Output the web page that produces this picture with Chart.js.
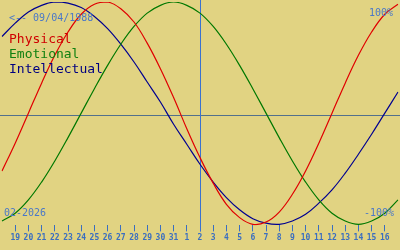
<!DOCTYPE html>
<html>
<head>
<meta charset="utf-8">
<script src="https://cdn.jsdelivr.net/npm/chart.js@4/dist/chart.umd.min.js"></script>
<style>
body { margin: 0; background: #e1d382; }
canvas { display: block; }
</style>
</head>
<body>
<canvas id="bioChart" width="400" height="250"></canvas>
<script>
// days shown: Jan 18 .. Feb 17 (first and last only reach the edges)
var _days = ['18','19','20','21','22','23','24','25','26','27','28','29','30','31',
	'1','2','3','4','5','6','7','8','9','10','11','12','13','14','15','16','17'];
var _physical = [-0.52,-0.27,0,0.27,0.52,0.73,0.89,0.98,1.00,0.94,0.82,0.63,0.40,0.14,-0.14,-0.40,
	-0.63,-0.82,-0.94,-1.00,-0.98,-0.89,-0.73,-0.52,-0.27,0,0.27,0.52,0.73,0.89,0.98];
var _emotional = [-0.97,-0.90,-0.78,-0.62,-0.43,-0.22,0,0.22,0.43,0.62,0.78,0.90,0.97,1.00,0.97,0.90,
	0.78,0.62,0.43,0.22,0,-0.22,-0.43,-0.62,-0.78,-0.90,-0.97,-1.00,-0.97,-0.90,-0.78];
var _intellectual = [0.69,0.81,0.91,0.97,1.00,0.99,0.95,0.87,0.76,0.62,0.46,0.28,0.10,-0.10,-0.28,-0.46,
	-0.62,-0.76,-0.87,-0.95,-0.99,-1.00,-0.97,-0.91,-0.81,-0.69,-0.54,-0.37,-0.19,0,0.19];
var _todayIdx = 15;
var _birthText = '<-- 09/04/1988';
var _monthText = '02-2026';
var _seriesNames = ['Physical', 'Emotional', 'Intellectual'];
var _seriesColors = ['#e00000', '#007800', '#000090'];
var _legendColors = ['#d00000', '#108010', '#000080'];

var bioPlugin = {
	id: 'bioPlugin',
	beforeDatasetsDraw: function(chart) {
		var ctx = chart.ctx;
		var area = chart.chartArea;
		var zy = Math.round(chart.scales.y.getPixelForValue(0)) + 2.5;
		var tx = Math.round(chart.scales.x.getPixelForValue(_todayIdx)) + 0.5;
		ctx.save();
		ctx.lineWidth = 1;
		ctx.strokeStyle = '#52708c';
		ctx.beginPath();
		ctx.moveTo(0, zy);
		ctx.lineTo(chart.width, zy);
		ctx.stroke();
		ctx.strokeStyle = '#3a72d0';
		ctx.beginPath();
		ctx.moveTo(tx, 0);
		ctx.lineTo(tx, area.bottom + 6);
		ctx.stroke();
		ctx.restore();
	},
	afterDatasetsDraw: function(chart) {
		var ctx = chart.ctx;
		ctx.save();
		ctx.textBaseline = 'alphabetic';
		ctx.textAlign = 'left';
		ctx.font = '10px "DejaVu Sans Mono"';
		ctx.fillStyle = '#4a78c8';
		ctx.fillText(_birthText, 9, 21);
		ctx.fillText('100%', 369, 16);
		ctx.fillText('-100%', 364, 216);
		ctx.fillText(_monthText, 4, 216);
		ctx.font = '13px "DejaVu Sans Mono"';
		for (var i = 0; i < _seriesNames.length; i++) {
			ctx.fillStyle = _legendColors[i];
			ctx.fillText(_seriesNames[i], 9, 43 + i * 15);
		}
		ctx.restore();
	}
};

function _makeDataset(data, color) {
	return {
		data: data,
		borderColor: color,
		borderWidth: 1.2,
		pointRadius: 0,
		fill: false,
		tension: 0.4
	};
}

var _config = {
	type: 'line',
	data: {
		labels: _days,
		datasets: [
			_makeDataset(_physical, _seriesColors[0]),
			_makeDataset(_emotional, _seriesColors[1]),
			_makeDataset(_intellectual, _seriesColors[2])
		]
	},
	options: {
		responsive: false,
		animation: false,
		layout: {
			padding: { top: 2, bottom: 5, left: 0, right: 0 }
		},
		plugins: {
			legend: { display: false },
			tooltip: { enabled: false }
		},
		scales: {
			x: {
				offset: false,
				border: { display: false },
				grid: {
					drawOnChartArea: false,
					drawTicks: true,
					tickLength: 6,
					color: function(c) {
						if (c.index == 0 || c.index == _days.length - 1) return 'rgba(0,0,0,0)';
						return '#3a6ec0';
					}
				},
				ticks: {
					autoSkip: false,
					maxRotation: 0,
					padding: 2,
					color: '#3a6ec0',
					font: { family: 'DejaVu Sans Mono', size: 8, weight: 'bold' },
					callback: function(val, idx) {
						if (idx == 0 || idx == _days.length - 1) return '';
						return _days[idx];
					}
				}
			},
			y: {
				display: false,
				min: -1.01,
				max: 1
			}
		}
	},
	plugins: [bioPlugin]
};

var myChart = new Chart(document.getElementById('bioChart'), _config);
</script>
</body>
</html>
